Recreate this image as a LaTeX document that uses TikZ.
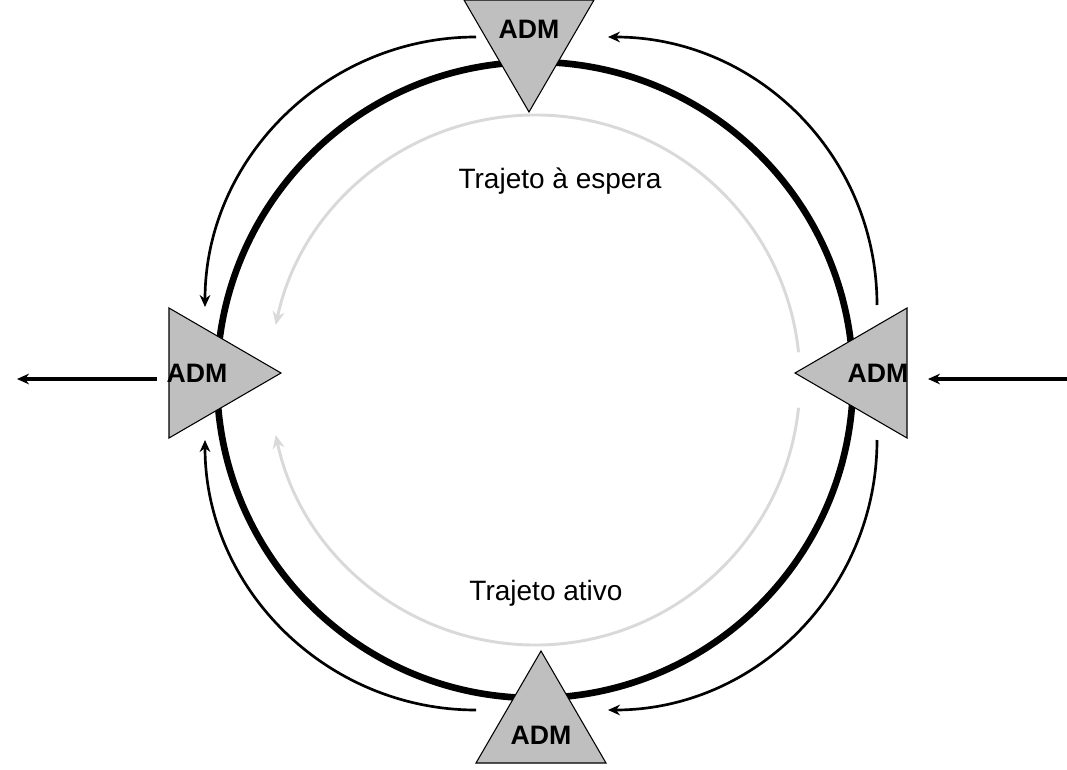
\documentclass[tikz,border=0pt]{standalone}
\usepackage{fontspec}
\setmainfont{Liberation Sans}
\usetikzlibrary{arrows.meta,calc}
\begin{document}
\begin{tikzpicture}[x=0.75pt,y=-0.75pt,
  tri/.style={draw=black,line width=0.8pt,fill=gray!50},
  adm/.style={font=\bfseries\fontsize{20}{22}\selectfont},
  lbl/.style={font=\fontsize{21}{24}\selectfont},
  arr/.style={line width=2pt,-{Stealth[length=9pt,width=8pt]}},
  garr/.style={line width=2.2pt,draw=gray!30,-{Stealth[length=10pt,width=9pt]}}]
\useasboundingbox (0,0) rectangle (1067,770);
\coordinate (c) at (535,380);
\draw[line width=5pt] (c) circle[radius=318];
\draw[garr] ($(c)+(6:265)$) arc[start angle=6,end angle=168,radius=265];
\draw[garr] ($(c)+(-6:265)$) arc[start angle=-6,end angle=-168,radius=265];
% triangles
\filldraw[tri] (464,0) -- (594,0) -- (529,112) -- cycle;
\filldraw[tri] (476,763) -- (606,763) -- (541,651) -- cycle;
\filldraw[tri] (169,308) -- (169,438) -- (281,373) -- cycle;
\filldraw[tri] (907,308) -- (907,438) -- (795,373) -- cycle;
\node[adm] (top) at (529,29) {ADM};
\node[adm] (bot) at (541,735) {ADM};
\node[adm] (lft) at (197,373) {ADM};
\node[adm] (rgt) at (878,373) {ADM};
% outer arrows
\coordinate (a1) at (476,37); \coordinate (a2) at (205,307);
\coordinate (b1) at (877,305); \coordinate (b2) at (608,37);
\coordinate (d1) at (877,440); \coordinate (d2) at (608,710);
\coordinate (e1) at (476,710); \coordinate (e2) at (205,440);
\draw[arr] (a1) .. controls (327,37) and (205,158) .. (a2);
\draw[arr] (b1) .. controls (877,156) and (757,37) .. (b2);
\draw[arr] (d1) .. controls (877,589) and (757,710) .. (d2);
\draw[arr] (e1) .. controls (327,710) and (205,589) .. (e2);
\coordinate (l1) at (157,379); \coordinate (l2) at (17,379);
\coordinate (r1) at (1067,379); \coordinate (r2) at (928,379);
\draw[arr,line width=2.5pt] (l1) -- (l2);
\draw[arr,line width=2.5pt] (r1) -- (r2);
\node[lbl] (t1) at (560,181) {Trajeto à espera};
\node[lbl] (t2) at (546,593) {Trajeto ativo};
\end{tikzpicture}
\end{document}
